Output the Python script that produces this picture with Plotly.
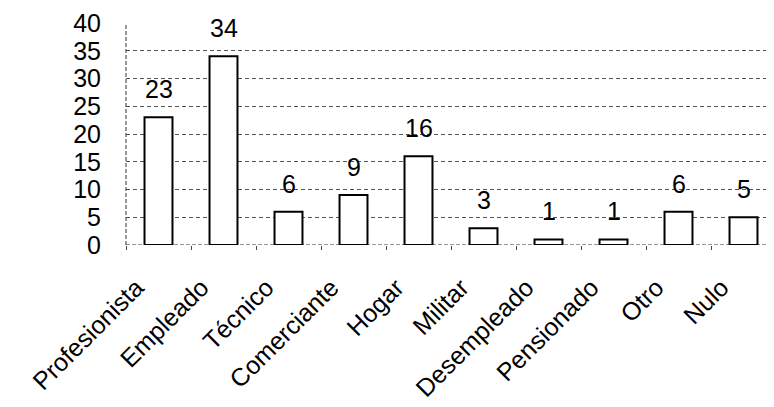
import plotly.graph_objects as go

categories = ["Profesionista", "Empleado", "Técnico", "Comerciante", "Hogar",
              "Militar", "Desempleado", "Pensionado", "Otro", "Nulo"]
values = [23, 34, 6, 9, 16, 3, 1, 1, 6, 5]
y_ticks = [0, 5, 10, 15, 20, 25, 30, 35, 40]

FONT = "Liberation Sans, Arial, sans-serif"

fig = go.Figure()
fig.add_trace(go.Bar(
    x=categories, y=values,
    marker=dict(color="white", line=dict(color="black", width=2)),
    width=0.43,
))

for c, v in zip(categories, values):
    fig.add_annotation(x=c, y=v, text=str(v), showarrow=False,
                       yanchor="bottom", yshift=12,
                       font=dict(family=FONT, size=25, color="black"))

# dashed y-axis line
fig.add_shape(type="line", xref="paper", yref="paper", x0=0, x1=0, y0=0, y1=1,
              line=dict(color="#333", width=1, dash="4px,2px"))
# dashed x-axis baseline
fig.add_shape(type="line", xref="paper", yref="y", x0=0, x1=1, y0=0, y1=0,
              line=dict(color="#333", width=1, dash="4px,2px"), layer="below")

fig.update_layout(
    width=774, height=407,
    margin=dict(l=118, r=6, t=15, b=170),
    paper_bgcolor="white", plot_bgcolor="white",
    showlegend=False,
    font=dict(family=FONT, size=24, color="black"),
    xaxis=dict(
        tickangle=-45, tickfont=dict(family=FONT, size=25, color="black"),
        showgrid=False, showline=False, zeroline=False,
        ticks="outside", tickson="boundaries", ticklen=4, tickcolor="#444",
        range=[-0.5, 9.5], automargin=False,
        ticklabelstandoff=22, ticklabelshift=-22, ticklabeloverflow="allow",
    ),
    yaxis=dict(
        range=[0, 40], tickvals=y_ticks,
        tickfont=dict(family=FONT, size=25, color="black"),
        showgrid=True, gridcolor="#555", gridwidth=1, griddash="4px,3px",
        zeroline=False, showline=False, ticklabelstandoff=24,
        automargin=False, ticklabeloverflow="allow",
    ),
    bargap=0.57,
)

fig.write_html("out.html")
